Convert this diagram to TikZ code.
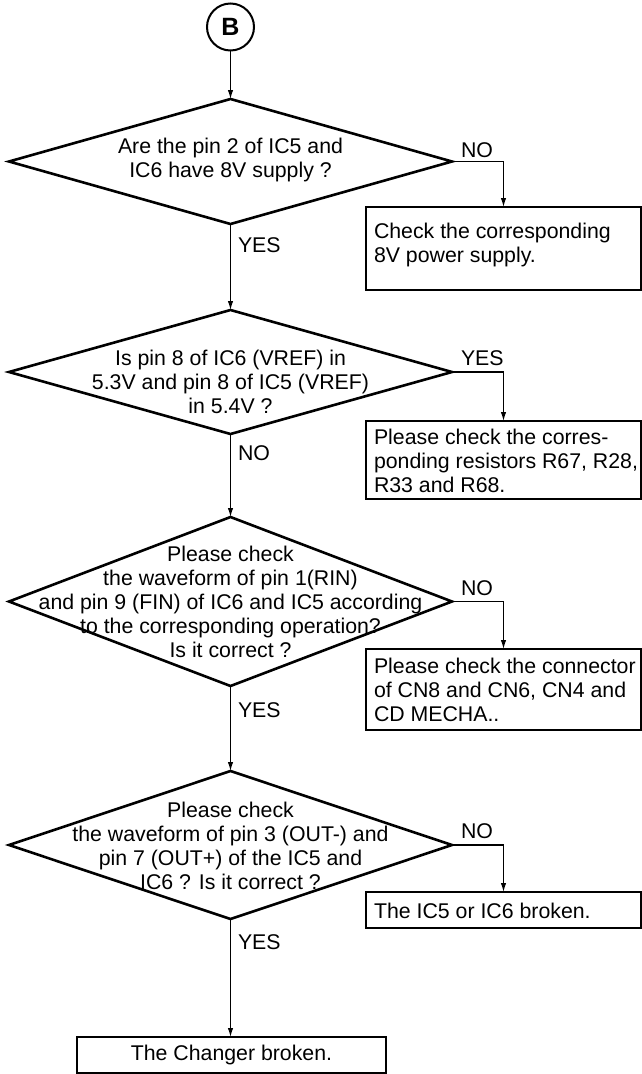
\documentclass[tikz,border=0pt]{standalone}
\usepackage{fontspec}
\setmainfont{Liberation Sans}
\usetikzlibrary{shapes.geometric,arrows.meta,calc}
\begin{document}
\begin{tikzpicture}[x=1pt,y=-1pt,
  every node/.style={font=\fontsize{21.3}{24}\selectfont, inner sep=0pt, outer sep=0pt},
  dec/.style={diamond, draw, line width=2.6pt, minimum width=443pt, minimum height=#1},
  qtext/.style={align=center},
  box/.style={draw, line width=2.6pt, minimum width=#1},
  btxt/.style={anchor=west, align=left},
  lbl/.style={anchor=west},
  conn/.style={line width=1.2pt, -{Latex[length=9pt,width=5.5pt]}}]
\useasboundingbox (0,0) rectangle (641,1074);

% start connector
\node[circle, draw, line width=2pt, minimum size=47pt, font=\fontsize{25}{28}\selectfont\bfseries] (B) at (230.5,27) {B};

% decisions
\node[dec=125pt] (d1) at (230.5,161.5) {};
\node[qtext] (q1) at (230.5,160) {Are the pin 2 of IC5 and\\IC6 have 8V supply ?};

\node[dec=124pt] (d2) at (230.5,372) {};
\node[qtext] (q2) at (230.5,382) {Is pin 8 of IC6 (VREF) in\\5.3V and pin 8 of IC5 (VREF)\\in 5.4V ?};

\node[dec=169pt] (d3) at (230.5,601.5) {};
\node[qtext] (q3) at (230.5,602) {Please check\\the waveform of pin 1(RIN)\\and pin 9 (FIN) of IC6 and IC5 according\\to the corresponding operation?\\Is it correct ?};

\node[dec=148pt] (d4) at (230.5,845) {};
\node[qtext] (q4) at (230.5,846) {Please check\\the waveform of pin 3 (OUT-) and\\pin 7 (OUT+) of the IC5 and\\IC6 ? Is it correct ?};

% result boxes
\node[box=275pt, minimum height=83pt] (b1) at (503.5,248.5) {};
\node[btxt] (t1) at (374,245) {Check the corresponding\\8V power supply.};

\node[box=275pt, minimum height=78pt] (b2) at (503.5,460) {};
\node[btxt] (t2) at (374,460.5) {Please check the corres-\\ponding resistors R67, R28,\\R33 and R68.};

\node[box=275pt, minimum height=81pt] (b3) at (503.5,689.5) {};
\node[btxt] (t3) at (374,689.5) {Please check the connector\\of CN8 and CN6, CN4 and\\CD MECHA..};

\node[box=275pt, minimum height=36pt] (b4) at (503.5,910) {};
\node[btxt] (t4) at (374,911) {The IC5 or IC6 broken.};

\node[box=309pt, minimum height=36pt] (b5) at (231.5,1055) {The Changer broken.};

% labels
\node[lbl] (l1) at (461,150) {NO};
\node[lbl] (l2) at (461,358) {YES};
\node[lbl] (l3) at (461,588) {NO};
\node[lbl] (l4) at (461,831) {NO};
\node[lbl] (m1) at (238,245) {YES};
\node[lbl] (m2) at (238,453) {NO};
\node[lbl] (m3) at (238,710) {YES};
\node[lbl] (m4) at (238,942) {YES};

% connectors
\draw[conn] (B) -- (d1.north);
\draw[conn] (d1.south) -- (d2.north);
\draw[conn] (d2.south) -- (d3.north);
\draw[conn] (d3.south) -- (d4.north);
\draw[conn] (d4.south) -- (d4.south |- b5.north);
\draw[conn] (d1.east) -| (b1.north);
\draw[conn] (d2.east) -| (b2.north);
\draw[conn] (d3.east) -| (b3.north);
\draw[conn] (d4.east) -| (b4.north);
\end{tikzpicture}
\end{document}
